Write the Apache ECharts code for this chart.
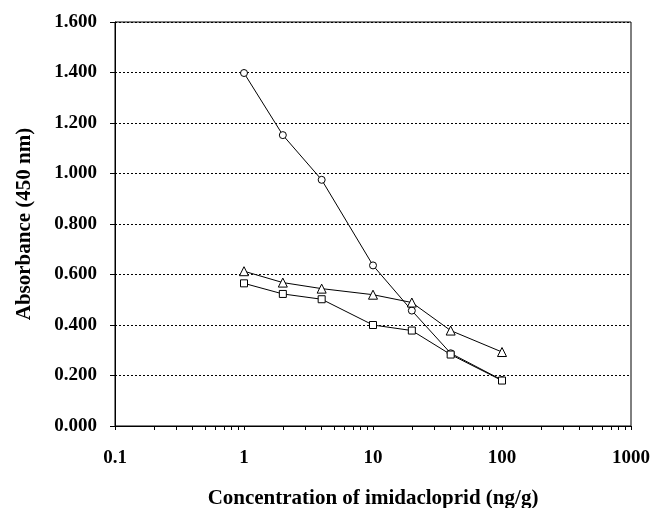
<!DOCTYPE html>
<html>
<head>
<meta charset="utf-8">
<script src="https://cdn.jsdelivr.net/npm/echarts@6/dist/echarts.min.js"></script>
<style>
  html, body { margin: 0; padding: 0; background: #fff; }
  #chart { width: 655px; height: 508px; }
</style>
</head>
<body>
<div id="chart"></div>
<script>
// concentration (ng/g)
const conc = [1, 2, 4, 10, 20, 40, 100];
// absorbance at 450 nm
const circleVals = [1.398, 1.152, 0.975, 0.636, 0.457, 0.288, 0.182];
const triangleVals = [0.613, 0.568, 0.544, 0.520, 0.489, 0.378, 0.293];
const squareVals = [0.565, 0.523, 0.502, 0.400, 0.378, 0.283, 0.180];
// tick marks on the log axis
const xTicks = [0.1, 0.2, 0.3, 0.4, 0.5, 0.6, 0.7, 0.8, 0.9,
  1, 2, 3, 4, 5, 6, 7, 8, 9,
  10, 20, 30, 40, 50, 60, 70, 80, 90,
  100, 200, 300, 400, 500, 600, 700, 800, 900, 1000];
const xLabels = [0.1, 1, 10, 100, 1000];

const font = 'Liberation Serif';
const pairs = vals => conc.map((c, i) => [c, vals[i]]);

const makeSeries = (name, vals, symbol, size) => ({
  name: name,
  type: 'line',
  data: pairs(vals),
  symbol: symbol,
  symbolSize: size,
  showSymbol: true,
  lineStyle: { color: '#000', width: 1 },
  itemStyle: { color: '#fff', borderColor: '#000', borderWidth: 1 },
  emphasis: { disabled: true },
  z: 3
});

const chart = echarts.init(document.getElementById('chart'));
chart.setOption({
  animation: false,
  backgroundColor: '#fff',
  grid: {
    left: 115, right: 24, top: 22, bottom: 82,
    outerBoundsMode: 'none',
    containLabel: false,
    show: true, borderColor: '#000', borderWidth: 1
  },
  xAxis: {
    type: 'log',
    logBase: 10,
    min: 0.1,
    max: 1000,
    name: 'Concentration of imidacloprid (ng/g)',
    nameLocation: 'middle',
    nameGap: 62,
    nameTextStyle: { fontFamily: font, fontSize: 21, fontWeight: 'bold', color: '#000' },
    axisLine: { lineStyle: { color: '#000', width: 1 } },
    axisTick: { show: true, length: 4, customValues: xTicks, lineStyle: { color: '#000' } },
    axisLabel: {
      customValues: xLabels,
      margin: 23,
      fontFamily: font, fontSize: 19, fontWeight: 'bold', color: '#000',
      formatter: v => String(v)
    },
    splitLine: { show: false },
    minorTick: { show: false }
  },
  yAxis: {
    type: 'value',
    min: 0,
    max: 1.6,
    interval: 0.2,
    name: 'Absorbance (450 nm)',
    nameLocation: 'middle',
    nameGap: 80,
    nameTextStyle: { fontFamily: font, fontSize: 21, fontWeight: 'bold', color: '#000' },
    axisLine: { show: true, lineStyle: { color: '#000', width: 1 } },
    axisTick: { show: true, length: 5, lineStyle: { color: '#000' } },
    axisLabel: {
      margin: 18,
      fontFamily: font, fontSize: 19, fontWeight: 'bold', color: '#000',
      formatter: v => v.toFixed(3)
    },
    splitLine: { show: true, lineStyle: { color: '#000', width: 1, type: [2, 2] } }
  },
  series: [
    makeSeries('circle', circleVals, 'circle', 7),
    makeSeries('triangle', triangleVals, 'triangle', 9),
    makeSeries('square', squareVals, 'rect', 7)
  ]
});
</script>
</body>
</html>
